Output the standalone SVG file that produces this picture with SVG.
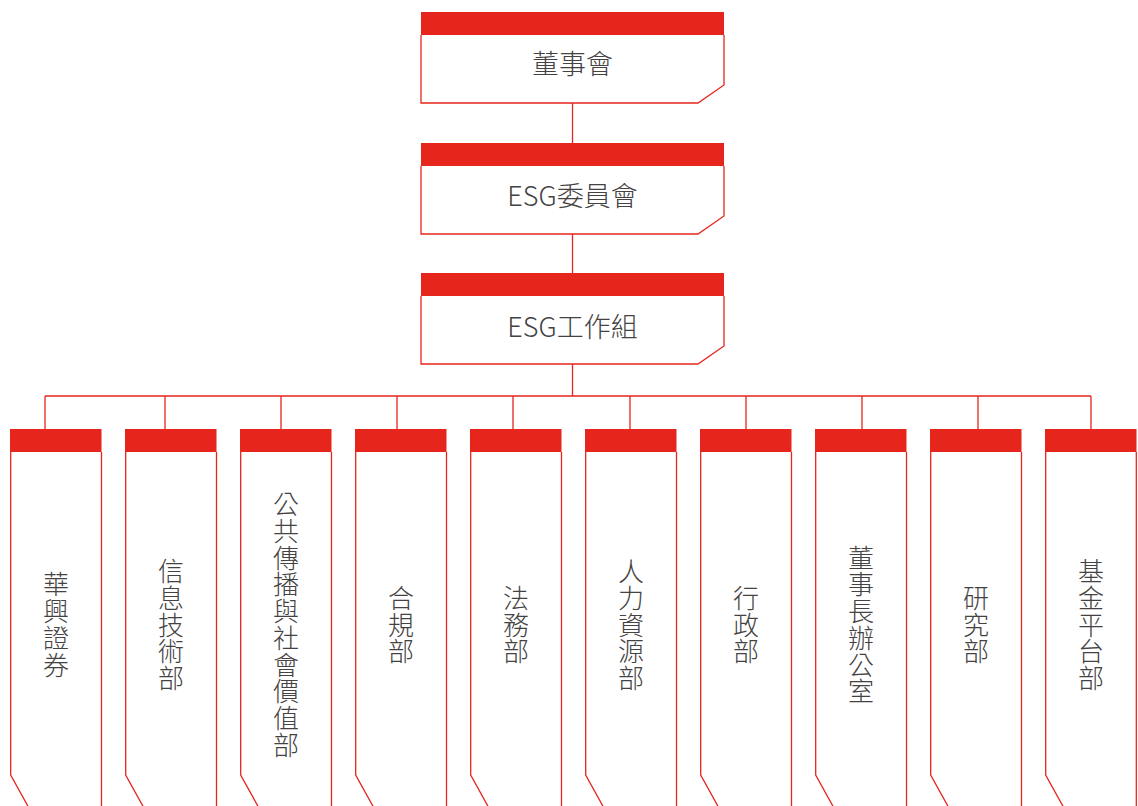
<svg xmlns="http://www.w3.org/2000/svg" width="1138" height="806" viewBox="0 0 1138 806">
<style>
.band{fill:#e6251d;}
.outline{fill:none;stroke:#e6251d;stroke-width:1.3;}
.conn{fill:none;stroke:#e6251d;stroke-width:1.3;}
.t{font-family:"Noto Sans CJK TC","Noto Sans",sans-serif;fill:#444242;font-size:27px;font-weight:300;text-anchor:middle;dominant-baseline:central;}
.v{font-family:"Noto Sans CJK TC","Noto Sans",sans-serif;fill:#444242;font-size:26px;font-weight:300;text-anchor:middle;writing-mode:vertical-rl;letter-spacing:0.7px;}
</style>
<rect width="1138" height="806" fill="#ffffff"/>
<g id="connectors">
<path class="conn" d="M572.5,103 V143 M572.5,234 V273 M572.5,364 V396 M45,396 H1091"/>
<path class="conn" d="M45,396 V429 M165,396 V429 M281,396 V429 M397,396 V429 M513,396 V429 M630,396 V429 M746,396 V429 M862,396 V429 M978,396 V429 M1091,396 V429"/>
</g>
<g id="board">
<rect class="band" x="421" y="12" width="303" height="23"/>
<path class="outline" d="M421,35 V103 H698 L724,85 V35"/>
<text class="t" x="572.5" y="62.5">董事會</text>
</g>
<g id="esg-committee">
<rect class="band" x="421" y="143" width="303" height="23"/>
<path class="outline" d="M421,166 V234 H698 L724,216 V166"/>
<text class="t" x="572.5" y="194.5">ESG委員會</text>
</g>
<g id="esg-workgroup">
<rect class="band" x="421" y="273" width="303" height="23"/>
<path class="outline" d="M421,296 V364 H698 L724,346 V296"/>
<text class="t" x="572.5" y="325.5">ESG工作組</text>
</g>
<g id="dept1">
<rect class="band" x="10" y="429" width="91.5" height="23"/>
<path class="outline" d="M10.7,452 V775 L29.5,809 M101.5,452 V810"/>
<text class="v" x="56" y="625">華興證券</text>
</g>
<g id="dept2">
<rect class="band" x="125" y="429" width="91.5" height="23"/>
<path class="outline" d="M125.7,452 V775 L144.5,809 M216.5,452 V810"/>
<text class="v" x="171" y="625">信息技術部</text>
</g>
<g id="dept3">
<rect class="band" x="240" y="429" width="91.5" height="23"/>
<path class="outline" d="M240.7,452 V775 L259.5,809 M331.5,452 V810"/>
<text class="v" x="286" y="625">公共傳播與社會價值部</text>
</g>
<g id="dept4">
<rect class="band" x="355" y="429" width="91.5" height="23"/>
<path class="outline" d="M355.7,452 V775 L374.5,809 M446.5,452 V810"/>
<text class="v" x="401" y="625">合規部</text>
</g>
<g id="dept5">
<rect class="band" x="470" y="429" width="91.5" height="23"/>
<path class="outline" d="M470.7,452 V775 L489.5,809 M561.5,452 V810"/>
<text class="v" x="516" y="625">法務部</text>
</g>
<g id="dept6">
<rect class="band" x="585" y="429" width="91.5" height="23"/>
<path class="outline" d="M585.7,452 V775 L604.5,809 M676.5,452 V810"/>
<text class="v" x="631" y="625">人力資源部</text>
</g>
<g id="dept7">
<rect class="band" x="700" y="429" width="91.5" height="23"/>
<path class="outline" d="M700.7,452 V775 L719.5,809 M791.5,452 V810"/>
<text class="v" x="746" y="625">行政部</text>
</g>
<g id="dept8">
<rect class="band" x="815" y="429" width="91.5" height="23"/>
<path class="outline" d="M815.7,452 V775 L834.5,809 M906.5,452 V810"/>
<text class="v" x="861" y="625">董事長辦公室</text>
</g>
<g id="dept9">
<rect class="band" x="930" y="429" width="91.5" height="23"/>
<path class="outline" d="M930.7,452 V775 L949.5,809 M1021.5,452 V810"/>
<text class="v" x="976" y="625">研究部</text>
</g>
<g id="dept10">
<rect class="band" x="1045" y="429" width="91.5" height="23"/>
<path class="outline" d="M1045.7,452 V775 L1064.5,809 M1136.3,452 V810"/>
<text class="v" x="1091" y="625">基金平台部</text>
</g>
</svg>
